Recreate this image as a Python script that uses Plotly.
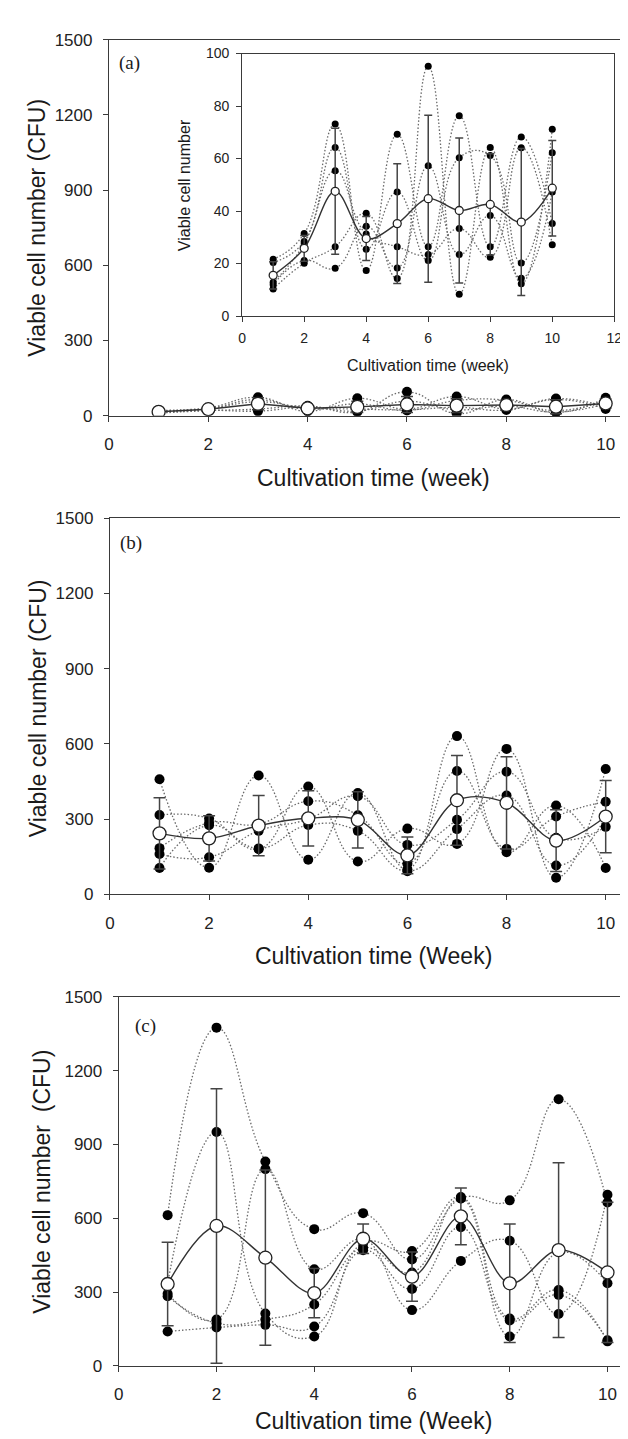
import plotly.graph_objects as go

weeks = [1, 2, 3, 4, 5, 6, 7, 8, 9, 10]

# Panel (a) replicate series (CFU)
a_reps = [
    [21.6, 31.4, 73.1, 17.3, 69.2, 26.4, 76.3, 26.4, 68.2, 35.2],
    [10.3, 20.1, 26.4, 39.1, 14.3, 95.1, 8.3, 64.2, 12.3, 71.1],
    [20.4, 28.4, 64.2, 25.4, 47.2, 21.1, 60.3, 61.1, 20.2, 62.2],
    [12.9, 27.5, 55.3, 31.2, 26.4, 23.4, 33.3, 22.4, 64.1, 27.1],
    [11.9, 21.1, 18.2, 34.2, 18.3, 57.2, 23.4, 38.3, 14.4, 47.2],
]
a_mean = [15.5, 25.8, 47.5, 29.5, 35.2, 44.7, 40.2, 42.5, 35.8, 48.7]
a_sd = [5.2, 4.9, 24.0, 8.4, 22.8, 31.8, 27.6, 19.3, 28.0, 18.2]

# Panel (b)
b_reps = [
    [459, 106, 474, 138, 404, 100, 631, 168, 354, 105],
    [316, 302, 180, 430, 131, 262, 201, 580, 66, 500],
    [184, 285, 280, 371, 315, 122, 492, 181, 310, 369],
    [161, 148, 253, 300, 391, 197, 297, 489, 225, 269],
    [105, 275, 183, 276, 253, 92, 260, 394, 115, 307],
]
b_mean = [243, 223, 274, 303, 297, 155, 375, 365, 214, 310]
b_sd = [142, 90, 120, 110, 112, 73, 179, 184, 123, 144]

# Panel (c)
c_reps = [
    [613, 1375, 831, 556, 621, 433, 681, 673, 1084, 664],
    [336, 951, 213, 120, 500, 467, 687, 193, 309, 100],
    [293, 189, 800, 393, 515, 227, 427, 509, 211, 696],
    [283, 174, 189, 250, 480, 380, 681, 120, 462, 336],
    [140, 156, 167, 160, 470, 313, 564, 185, 289, 104],
]
c_mean = [333, 569, 440, 296, 517, 363, 608, 336, 471, 380]
c_sd = [170, 558, 356, 100, 60, 100, 115, 241, 355, 285]

main_yticks = [0, 300, 600, 900, 1200, 1500]
main_xticks = [0, 2, 4, 6, 8, 10]
inset_yticks = [0, 20, 40, 60, 80, 100]
inset_xticks = [0, 2, 4, 6, 8, 10, 12]

W, H = 628, 1439
def px(x): return x / W
def py(y): return 1 - y / H

AX = '#3a3a3a'
fig = go.Figure()

def add_panel(reps, mean, sd, xa, ya, dot_size, open_size, cap, shape_mean='spline'):
    for r in reps:
        fig.add_trace(go.Scatter(x=weeks, y=r, mode='lines', xaxis=xa, yaxis=ya,
                                 line=dict(color='#6a6a6a', width=1.3, dash='1.5px,2px', shape='spline', smoothing=1.3),
                                 hoverinfo='skip', showlegend=False))
    for r in reps:
        fig.add_trace(go.Scatter(x=weeks, y=r, mode='markers', xaxis=xa, yaxis=ya,
                                 marker=dict(color='black', size=dot_size),
                                 showlegend=False))
    fig.add_trace(go.Scatter(x=weeks, y=mean, mode='lines+markers', xaxis=xa, yaxis=ya,
                             line=dict(color='#333', width=1.4, shape=shape_mean, smoothing=1.0),
                             marker=dict(color='white', size=open_size, line=dict(color='#222', width=1.3)),
                             error_y=dict(type='data', array=sd, visible=True, color='#444', thickness=1.5, width=cap),
                             showlegend=False))

add_panel(a_reps, a_mean, a_sd, 'x', 'y', 10, 13, 6, 'linear')
add_panel(a_reps, a_mean, a_sd, 'x2', 'y2', 7, 8, 4)
add_panel(b_reps, b_mean, b_sd, 'x3', 'y3', 10, 13, 6)
add_panel(c_reps, c_mean, c_sd, 'x4', 'y4', 10, 13, 6)

tickfont = dict(family='Liberation Sans, Arial', size=17, color='#222')
inset_font = dict(family='Liberation Sans, Arial', size=14, color='#222')
common = dict(showline=True, linecolor=AX, linewidth=1.2, ticks='outside', ticklen=5,
              tickcolor=AX, tickwidth=1.2, showgrid=False, zeroline=False)

fig.update_layout(
    width=W, height=H, margin=dict(l=0, r=0, t=0, b=0),
    paper_bgcolor='white', plot_bgcolor='rgba(0,0,0,0)', showlegend=False,
    xaxis=dict(domain=[px(98), 1], range=[0, 10.45], tickvals=main_xticks, mirror=True, anchor='y',
               ticklabelstandoff=8, tickfont=tickfont, **common),
    yaxis=dict(domain=[py(404), py(23)], range=[0, 1500], tickvals=main_yticks, anchor='x',
               ticklabelstandoff=7, tickfont=tickfont, **common),
    xaxis2=dict(domain=[px(234), px(614)], range=[0, 12], tickvals=inset_xticks, mirror=True, anchor='y2',
                ticklabelstandoff=4, tickfont=inset_font, **common),
    yaxis2=dict(domain=[py(303), py(37)], range=[0, 100], tickvals=inset_yticks, mirror=True, anchor='x2',
                ticklabelstandoff=4, tickfont=inset_font, **common),
    xaxis3=dict(domain=[px(99), 1], range=[0, 10.45], tickvals=main_xticks, mirror=True, anchor='y3',
                ticklabelstandoff=8, tickfont=tickfont, **common),
    yaxis3=dict(domain=[py(889), py(508)], range=[0, 1500], tickvals=main_yticks, anchor='x3',
                ticklabelstandoff=7, tickfont=tickfont, **common),
    xaxis4=dict(domain=[px(108), 1], range=[0, 10.42], tickvals=main_xticks, mirror=True, anchor='y4',
                ticklabelstandoff=8, tickfont=tickfont, **common),
    yaxis4=dict(domain=[py(1367), py(993)], range=[0, 1500], tickvals=main_yticks, anchor='x4',
                ticklabelstandoff=7, tickfont=tickfont, **common),
)

# Inset white background
fig.add_shape(type='rect', xref='x2 domain', yref='y2 domain', x0=0, x1=1, y0=0, y1=1,
              fillcolor='white', line=dict(width=0), layer='below')

sans = 'Liberation Sans, Arial'
def ann(text, x, y, size, angle=0, family=sans):
    fig.add_annotation(text=text, xref='paper', yref='paper', x=px(x), y=py(y),
                       xanchor='center', yanchor='middle', showarrow=False, textangle=angle,
                       font=dict(family=family, size=size, color='#1a1a1a'))

ann('Viable cell number (CFU)', 25, 213, 23, -90)
ann('Cultivation time (week)', 368, 467, 23)
ann('Viable cell number', 175, 170, 16, -90)
ann('Cultivation time (week)', 424, 353, 16)
ann('(a)', 119, 47, 19, family='Liberation Serif, Times New Roman')

ann('Viable cell number (CFU)', 25, 700, 23, -90)
ann('Cultivation time (Week)', 368, 952, 23)
ann('(b)', 121, 533, 19, family='Liberation Serif, Times New Roman')

ann('Viable cell number  (CFU)', 30, 1180, 23, -90)
ann('Cultivation time (Week)', 368, 1423, 23)
ann('(c)', 135, 1022, 19, family='Liberation Serif, Times New Roman')

fig.write_html('out.html')
